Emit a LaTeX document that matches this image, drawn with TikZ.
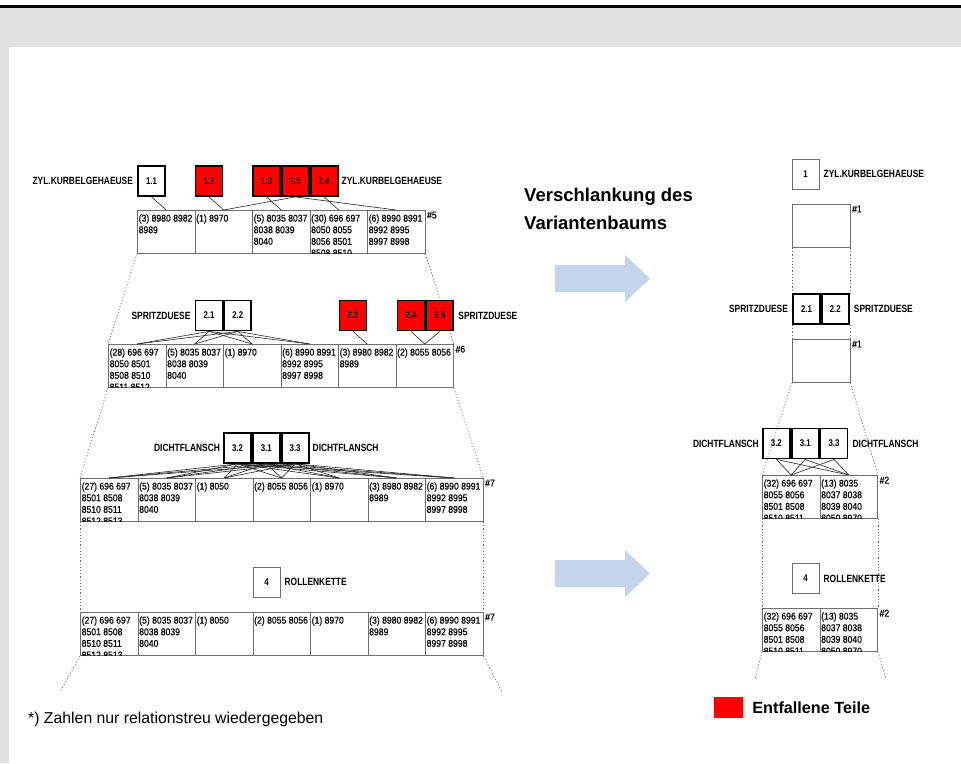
\documentclass[tikz,border=0pt]{standalone}
\usepackage{fontspec}
\setmainfont{Liberation Sans}
\newfontfamily\cellfont[FakeStretch=0.88, FakeBold=0.5]{Liberation Sans}
\newfontfamily\capsfont[FakeStretch=0.8]{Liberation Sans}
\usetikzlibrary{positioning, backgrounds}
\definecolor{panelgray}{RGB}{224,224,224}
\definecolor{arrowblue}{RGB}{196,212,234}
\definecolor{linegray}{RGB}{110,110,110}

\tikzset{
  partbox/.style={draw, line width=1.8pt, minimum width=27pt, minimum height=30pt, inner sep=0pt, font=\capsfont\bfseries\fontsize{9.8}{11}\selectfont},
  dropbox/.style={partbox, fill=red},
  onebox/.style={draw=linegray, line width=0.9pt, minimum width=27pt, minimum height=30pt, inner sep=0pt, font=\capsfont\bfseries\fontsize{9.8}{11}\selectfont},
  cell/.style={draw=linegray, line width=0.9pt, anchor=north west, minimum width=57.5pt, minimum height=43pt, inner sep=0pt},
  celltext/.style={anchor=north west, align=left, inner xsep=1.5pt, inner ysep=4.3pt, font=\cellfont\fontsize{9.8}{11.6}\selectfont},
  tag/.style={anchor=north west, inner sep=1.5pt, font=\cellfont\fontsize{9.8}{11}\selectfont},
  groupname/.style={inner sep=0pt, font=\capsfont\bfseries\fontsize{10.5}{12}\selectfont},
  link/.style={line width=0.6pt, black!85},
  guide/.style={linegray, line width=0.7pt, dash pattern=on 1.2pt off 2pt}
}

\newcommand{\cellrow}[4]{%
  \foreach \txt [count=\i from 0] in {#4} {
    \node[cell] (#1\i) at ({#2+57.5*\i},#3) {};
    \begin{scope}
      \clip (#1\i.north west) rectangle (#1\i.south east);
      \node[celltext] at (#1\i.north west) {\txt};
    \end{scope}
  }%
}

\begin{document}
\begin{tikzpicture}[x=1pt, y=-1pt]
    \useasboundingbox (0,0) rectangle (961,763);
    \fill[black] (0,5) rectangle (961,8);

    % linker Baum
    \node[partbox] (p11) at (151.5,181) {1.1};
    \node[dropbox] (p12) at (209,181) {1.2};
    \node[dropbox] (p13) at (266.5,181) {1.3};
    \node[dropbox, right=0pt of p13] (p15) {1.5};
    \node[dropbox, right=0pt of p15] (p14) {1.4};
    \node[groupname, left=4pt of p11] (n1l) {ZYL.KURBELGEHAEUSE};
    \node[groupname, right=3pt of p14] (n1r) {ZYL.KURBELGEHAEUSE};
    \cellrow{rowA}{137}{210}{{(3) 8980 8982\\8989}, {(1) 8970}, {(5) 8035 8037\\8038 8039\\8040}, {(30) 696 697\\8050 8055\\8056 8501\\8508 8510}, {(6) 8990 8991\\8992 8995\\8997 8998}}
    \node[tag] (t1) at (rowA4.north east) {\#5};

    \node[partbox] (p21) at (209,315.5) {2.1};
    \node[partbox, right=0pt of p21] (p22) {2.2};
    \node[dropbox] (p23) at (353,315.5) {2.3};
    \node[dropbox] (p24) at (411,315.5) {2.4};
    \node[dropbox, right=0pt of p24] (p25) {2.5};
    \node[groupname, left=4pt of p21] (n2l) {SPRITZDUESE};
    \node[groupname, right=4pt of p25] (n2r) {SPRITZDUESE};
    \cellrow{rowB}{108}{344}{{(28) 696 697\\8050 8501\\8508 8510\\8511 8512}, {(5) 8035 8037\\8038 8039\\8040}, {(1) 8970}, {(6) 8990 8991\\8992 8995\\8997 8998}, {(3) 8980 8982\\8989}, {(2) 8055 8056}}
    \node[tag] (t2) at (rowB5.north east) {\#6};

    \node[partbox] (p32) at (237.5,448) {3.2};
    \node[partbox, right=0pt of p32] (p31) {3.1};
    \node[partbox, right=0pt of p31] (p33) {3.3};
    \node[groupname, left=3pt of p32] (n3l) {DICHTFLANSCH};
    \node[groupname, right=3pt of p33] (n3r) {DICHTFLANSCH};
    \cellrow{rowC}{80}{478}{{(27) 696 697\\8501 8508\\8510 8511\\8512 8513}, {(5) 8035 8037\\8038 8039\\8040}, {(1) 8050}, {(2) 8055 8056}, {(1) 8970}, {(3) 8980 8982\\8989}, {(6) 8990 8991\\8992 8995\\8997 8998}}
    \node[tag] (t3) at (rowC6.north east) {\#7};

    \node[onebox] (p4) at (266.5,582) {4};
    \node[groupname, right=4pt of p4] (n4) {ROLLENKETTE};
    \cellrow{rowD}{80}{612}{{(27) 696 697\\8501 8508\\8510 8511\\8512 8513}, {(5) 8035 8037\\8038 8039\\8040}, {(1) 8050}, {(2) 8055 8056}, {(1) 8970}, {(3) 8980 8982\\8989}, {(6) 8990 8991\\8992 8995\\8997 8998}}
    \node[tag] (t4) at (rowD6.north east) {\#7};

    \draw[link] (p11.south) -- (rowA0.north);
    \draw[link] (p12.south) -- (rowA1.north);
    \draw[link] (p15.south) -- (rowA1.north);
    \draw[link] (p13.south) -- (rowA2.north);
    \draw[link] (p14.south) -- (rowA3.north);
    \draw[link] (p15.south) -- (rowA4.north);
    \foreach \p in {p21,p22} \foreach \c in {0,...,3} \draw[link] (\p.south) -- (rowB\c.north);
    \draw[link] (p23.south) -- (rowB4.north);
    \draw[link] (p24.south) -- (rowB5.north);
    \draw[link] (p25.south) -- (rowB5.north);
    \foreach \p in {p32,p31,p33} \foreach \c in {0,...,6} \draw[link] (\p.south) -- (rowC\c.north);

    % rechter Baum
    \node[onebox] (q1) at (805.5,174) {1};
    \node[groupname, right=4pt of q1] (m1) {ZYL.KURBELGEHAEUSE};
    \node[cell] (slim1) at (792,204) {};
    \node[tag] (s1) at (slim1.north east) {\#1};
    \node[partbox] (q21) at (806.5,309) {2.1};
    \node[partbox, right=0pt of q21] (q22) {2.2};
    \node[groupname, left=4pt of q21] (m2l) {SPRITZDUESE};
    \node[groupname, right=4pt of q22] (m2r) {SPRITZDUESE};
    \node[cell] (slim2) at (792,339) {};
    \node[tag] (s2) at (slim2.north east) {\#1};
    \node[partbox] (q32) at (776.4,443.5) {3.2};
    \node[partbox, right=0pt of q32] (q31) {3.1};
    \node[partbox, right=0pt of q31] (q33) {3.3};
    \node[groupname, left=3pt of q32] (m3l) {DICHTFLANSCH};
    \node[groupname, right=4pt of q33] (m3r) {DICHTFLANSCH};
    \cellrow{rowE}{762}{475}{{(32) 696 697\\8055 8056\\8501 8508\\8510 8511}, {(13) 8035\\8037 8038\\8039 8040\\8050 8970}}
    \node[tag] (s3) at (rowE1.north east) {\#2};
    \node[onebox] (q4) at (805.5,578.5) {4};
    \node[groupname, right=4pt of q4] (m4) {ROLLENKETTE};
    \cellrow{rowF}{762}{608}{{(32) 696 697\\8055 8056\\8501 8508\\8510 8511}, {(13) 8035\\8037 8038\\8039 8040\\8050 8970}}
    \node[tag] (s4) at (rowF1.north east) {\#2};
    \foreach \p in {q32,q31,q33} \foreach \c in {0,1} \draw[link] (\p.south) -- (rowE\c.north);

    \node[anchor=north west, align=left, inner sep=0pt, font=\bfseries\fontsize{18.5}{28}\selectfont] (title) at (524,188) {Verschlankung des\\Variantenbaums};
    \fill[arrowblue] (555,265) -- (625,265) -- (625,255) -- (650,278.5) -- (625,302) -- (625,292) -- (555,292) -- cycle;
    \fill[arrowblue] (555,560) -- (625,560) -- (625,550) -- (650,573.5) -- (625,597) -- (625,587) -- (555,587) -- cycle;

    \node[fill=red, minimum width=29pt, minimum height=21pt, inner sep=0pt] (legbox) at (728.5,707.5) {};
    \node[right=9pt of legbox, inner sep=0pt, font=\bfseries\fontsize{16.2}{18}\selectfont] (legtext) {Entfallene Teile};
    \node[anchor=west, inner sep=0pt, font=\fontsize{15.8}{18}\selectfont] (note) at (28,719) {*) Zahlen nur relationstreu wiedergegeben};

    \coordinate (tailL) at (60,692);
    \coordinate (tailR) at (502,692);
    \coordinate (endL) at (755,679);
    \coordinate (endR) at (886,679);

    \begin{scope}[on background layer]
        \fill[panelgray] (0,8) rectangle (961,763);
        \fill[white] (9,47) rectangle (961,763);
        \draw[guide] (rowA0.south west) -- (rowB0.north west);
        \draw[guide] (rowA4.south east) -- (rowB5.north east);
        \draw[guide] (rowB0.south west) -- (rowC0.north west);
        \draw[guide] (rowB5.south east) -- (rowC6.north east);
        \draw[guide] (rowC0.south west) -- (rowD0.north west);
        \draw[guide] (rowC6.south east) -- (rowD6.north east);
        \draw[guide] (rowD0.south west) -- (tailL);
        \draw[guide] (rowD6.south east) -- (tailR);
        \draw[guide] (slim1.south west) -- (slim1.south west |- q21.north);
        \draw[guide] (slim1.south east) -- (slim1.south east |- q22.north);
        \draw[guide] (slim2.north west |- q21.south) -- (slim2.north west);
        \draw[guide] (slim2.north east |- q22.south) -- (slim2.north east);
        \draw[guide] (slim2.south west) -- (rowE0.north west);
        \draw[guide] (slim2.south east) -- (rowE1.north east);
        \draw[guide] (rowE0.south west) -- (rowF0.north west);
        \draw[guide] (rowE1.south east) -- (rowF1.north east);
        \draw[guide] (rowF0.south west) -- (endL);
        \draw[guide] (rowF1.south east) -- (endR);
    \end{scope}
\end{tikzpicture}
\end{document}
